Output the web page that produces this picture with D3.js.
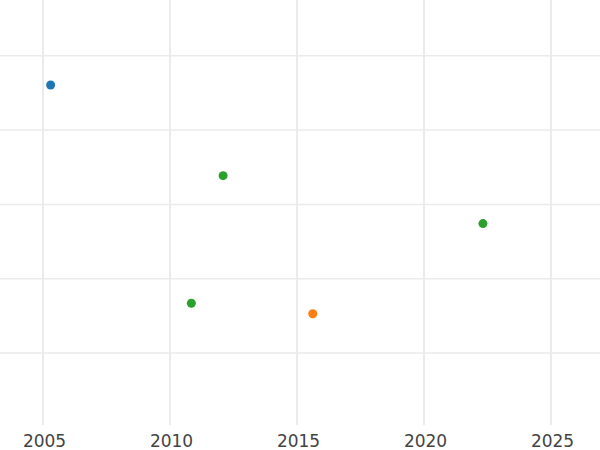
<!DOCTYPE html>
<html><head><meta charset="utf-8">
<script src="https://cdn.jsdelivr.net/npm/d3@7"></script>
<style>body{margin:0;background:#fff}svg{display:block}
.xt text{font-family:"DejaVu Sans",sans-serif !important;font-size:17px !important;fill:#444}</style>
</head><body>
<svg id="c" width="600" height="450"></svg>
<script>
const years = [2005.30, 2012.09, 2022.32, 2010.84, 2015.62];
const values = [4.607, 3.387, 2.742, 1.669, 1.529];
const groups = ["A", "B", "B", "B", "C"];
const groupNames = ["A", "B", "C"];
const groupColors = ["#1f77b4", "#2ca02c", "#ff7f0e"];
const xTicks = [2005, 2010, 2015, 2020, 2025];
const yTicks = [1, 2, 3, 4, 5];

const svg = d3.select("#c");
const W = 600, plotBottom = 425;
const x = d3.scaleLinear().domain([2003.307, 2026.929]).range([0, W]);
const y = d3.scaleLinear().domain([0.031, 5.751]).range([plotBottom, 0]);
const color = d3.scaleOrdinal().domain(groupNames).range(groupColors);

svg.append("g").selectAll("line").data(yTicks).join("line")
  .attr("x1", 0).attr("x2", W)
  .attr("y1", d => y(d)).attr("y2", d => y(d))
  .attr("stroke", "#ebebeb").attr("stroke-width", 1.5);

svg.append("g").selectAll("line").data(xTicks).join("line")
  .attr("x1", d => x(d)).attr("x2", d => x(d))
  .attr("y1", 0).attr("y2", plotBottom)
  .attr("stroke", "#ebebeb").attr("stroke-width", 2);

const xAxis = d3.axisBottom(x).tickValues(xTicks).tickFormat(d3.format("d")).tickSize(0).tickPadding(0);
const ax = svg.append("g").attr("class", "xt")
  .attr("transform", `translate(0,${plotBottom})`).call(xAxis)
  .attr("font-family", null).attr("font-size", null);
ax.select(".domain").remove();
ax.selectAll("text").attr("dy", null).attr("y", 21.5).attr("x", 1);

svg.append("g").selectAll("circle").data(years.map((yr, i) => ({yr, v: values[i], g: groups[i]})))
  .join("circle")
  .attr("cx", d => x(d.yr)).attr("cy", d => y(d.v)).attr("r", 4.5)
  .attr("fill", d => color(d.g));
</script>
</body></html>
